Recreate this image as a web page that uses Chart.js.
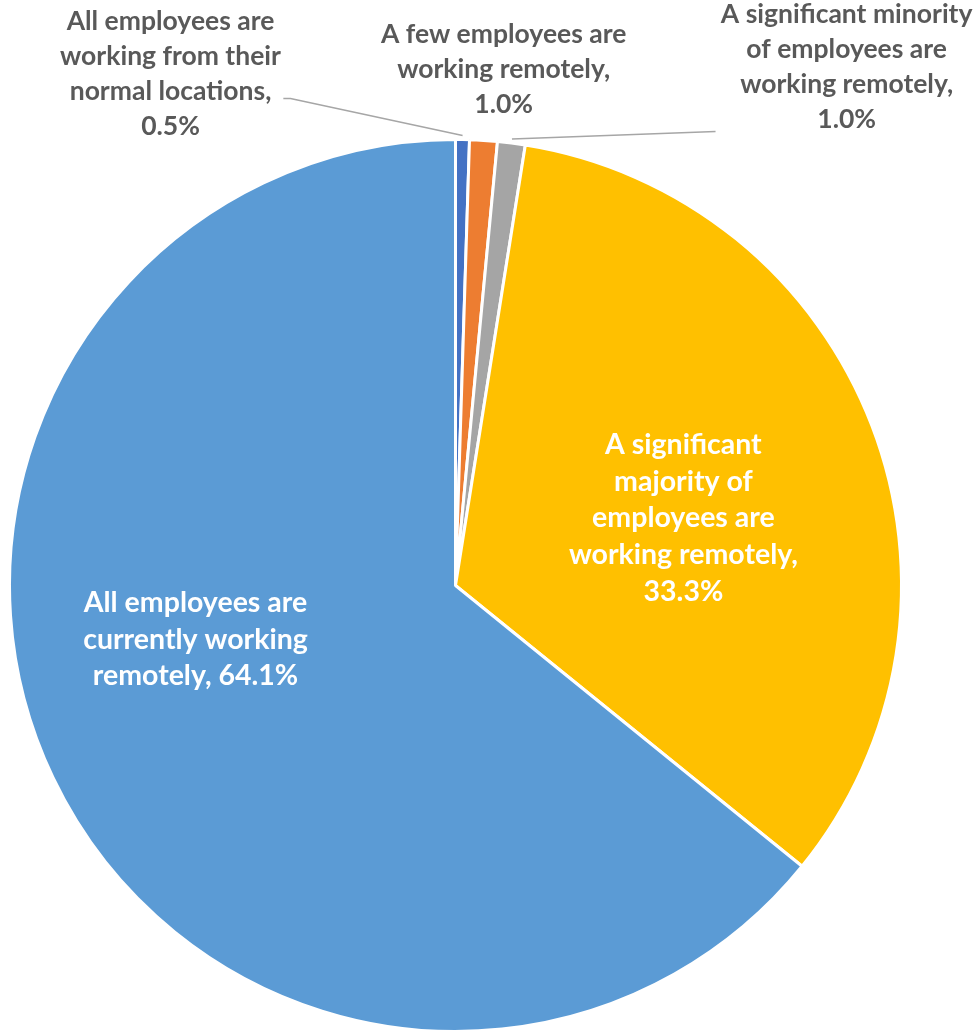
<!DOCTYPE html>
<html>
<head>
<meta charset="utf-8">
<script src="https://cdn.jsdelivr.net/npm/chart.js@4"></script>
<style>
  html, body { margin: 0; padding: 0; background: #ffffff; }
  #wrap { width: 979px; height: 1034px; position: relative; }
</style>
</head>
<body>
<div id="wrap"><canvas id="pie"></canvas></div>
<script>
// Survey answers, already wrapped into display lines
const categories = [
  ['All employees are', 'working from their', 'normal locations,'],
  ['A few employees are', 'working remotely,'],
  ['A significant minority', 'of employees are', 'working remotely,'],
  ['A significant', 'majority of', 'employees are', 'working remotely,'],
  ['All employees are', 'currently working', 'remotely,']
];
const shares = [0.5, 1.0, 1.0, 33.3, 64.1];
const sliceColors = ['#4472C4', '#ED7D31', '#A5A5A5', '#FFC000', '#5B9BD5'];

// Label placement, in units of the pie radius from its centre
const labelStyle = [
  { cx: -0.639, cy: -1.146, inside: false, ownLine: true,
    leader: { from: [-0.386, -1.092], elbow: [-0.370, -1.092] } },
  { cx: 0.108, cy: -1.157, inside: false, ownLine: true, leader: null },
  { cx: 0.877, cy: -1.163, inside: false, ownLine: true,
    leader: { from: [0.583, -1.018], elbow: null } },
  { cx: 0.511, cy: -0.151, inside: true, ownLine: true, leader: null },
  { cx: -0.583, cy: 0.121, inside: true, ownLine: false, leader: null }
];

const FONT = '"Lato", "Open Sans", "DejaVu Sans", sans-serif';

const sliceLabels = {
  id: 'sliceLabels',
  afterDatasetsDraw(chart) {
    const ctx = chart.ctx;
    const meta = chart.getDatasetMeta(0);
    const ds = chart.data.datasets[0];
    ctx.save();
    meta.data.forEach((arc, i) => {
      const p = arc.getProps(['x', 'y', 'outerRadius', 'startAngle', 'endAngle'], true);
      const R = p.outerRadius;
      const st = labelStyle[i];
      const valueText = ds.data[i].toFixed(1) + '%';
      const lines = chart.data.labels[i].slice();
      if (st.ownLine) {
        lines.push(valueText);
      } else {
        lines[lines.length - 1] = lines[lines.length - 1] + ' ' + valueText;
      }
      const size = st.inside ? 28.5 : 26.5;
      const lh = st.inside ? 36.8 : 35;
      ctx.font = 'bold ' + size + 'px ' + FONT;
      ctx.fillStyle = st.inside ? '#ffffff' : '#595959';
      ctx.textAlign = 'center';
      ctx.textBaseline = 'middle';
      const bx = p.x + st.cx * R;
      const by = p.y + st.cy * R;
      const top = by - (lines.length - 1) * lh / 2;
      lines.forEach((t, k) => ctx.fillText(t, bx, top + k * lh));

      if (st.leader) {
        const mid = (p.startAngle + p.endAngle) / 2;
        const ex = p.x + Math.cos(mid) * (R + 4);
        const ey = p.y + Math.sin(mid) * (R + 4);
        ctx.strokeStyle = '#A6A6A6';
        ctx.lineWidth = 1.6;
        ctx.beginPath();
        ctx.moveTo(p.x + st.leader.from[0] * R, p.y + st.leader.from[1] * R);
        if (st.leader.elbow) {
          ctx.lineTo(p.x + st.leader.elbow[0] * R, p.y + st.leader.elbow[1] * R);
        }
        ctx.lineTo(ex, ey);
        ctx.stroke();
      }
    });
    ctx.restore();
  }
};

new Chart(document.getElementById('pie'), {
  type: 'pie',
  data: {
    labels: categories,
    datasets: [{
      data: shares,
      backgroundColor: sliceColors,
      borderColor: '#ffffff',
      borderWidth: 3,
      hoverBorderWidth: 3,
      hoverOffset: 0
    }]
  },
  options: {
    responsive: true,
    maintainAspectRatio: false,
    animation: false,
    events: [],
    layout: { padding: { left: 8, right: 76, top: 138, bottom: 1 } },
    plugins: {
      legend: { display: false },
      tooltip: { enabled: false },
      title: { display: false }
    }
  },
  plugins: [sliceLabels]
});
</script>
</body>
</html>
